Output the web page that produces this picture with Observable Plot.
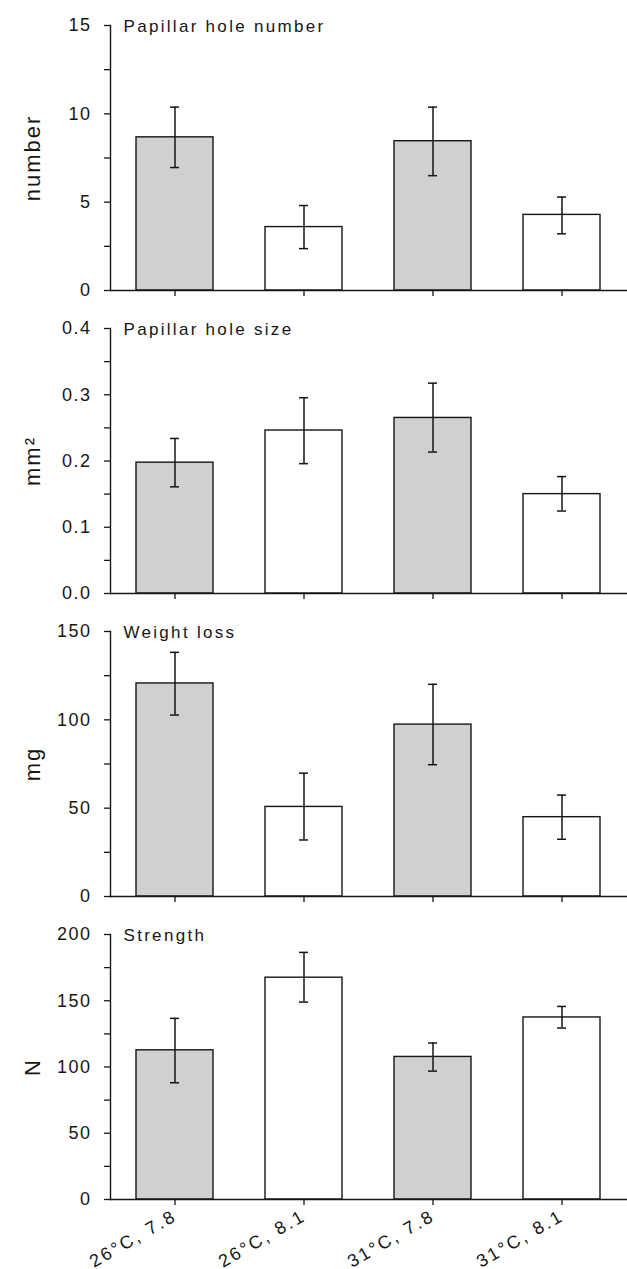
<!DOCTYPE html>
<html>
<head>
<meta charset="utf-8">
<script src="https://cdn.jsdelivr.net/npm/d3@7"></script>
<script src="https://cdn.jsdelivr.net/npm/@observablehq/plot@0.6"></script>
<style>
  html, body { margin: 0; padding: 0; background: white; }
  #chart svg { display: block; }
  #chart g[aria-label="y-axis tick label"] text { font-size: 18px; letter-spacing: 1.5px; }
  #chart g[aria-label="x-axis tick label"] text { font-size: 18px; letter-spacing: 2.4px; }
  #chart g.panel-title text { font-size: 17px; letter-spacing: 2.3px; }
  #chart g.panel-ylabel text { font-size: 22px; letter-spacing: 2px; }
</style>
</head>
<body>
<div id="chart"></div>
<script>
// ---- data ----
const categories = ["26°C, 7.8", "26°C, 8.1", "31°C, 7.8", "31°C, 8.1"];
const phLevel = ["7.8", "8.1", "7.8", "8.1"];

const holeNumberTitle = "Papillar hole number";
const holeNumberMean = [8.67, 3.59, 8.45, 4.28];
const holeNumberLow  = [6.96, 2.37, 6.50, 3.21];
const holeNumberHigh = [10.38, 4.81, 10.38, 5.29];
const holeNumberTicks = [0, 5, 10, 15];
const holeNumberMinor = [2.5, 7.5, 12.5];

const holeSizeTitle = "Papillar hole size";
const holeSizeMean = [0.1975, 0.246, 0.265, 0.150];
const holeSizeLow  = [0.161, 0.196, 0.2135, 0.1245];
const holeSizeHigh = [0.234, 0.2955, 0.3175, 0.1765];
const holeSizeTicks = [0, 0.1, 0.2, 0.3, 0.4];
const holeSizeMinor = [0.05, 0.15, 0.25, 0.35];

const weightTitle = "Weight loss";
const weightMean = [120.6, 50.7, 97.3, 44.9];
const weightLow  = [102.7, 32.0, 74.6, 32.4];
const weightHigh = [138.2, 69.8, 120.1, 57.4];
const weightTicks = [0, 50, 100, 150];
const weightMinor = [25, 75, 125];

const strengthTitle = "Strength";
const strengthMean = [112.6, 167.4, 107.6, 137.4];
const strengthLow  = [88.1, 149.0, 96.9, 129.4];
const strengthHigh = [136.7, 186.5, 118.1, 145.7];
const strengthTicks = [0, 50, 100, 150, 200];
const strengthMinor = [25, 75, 125, 175];

// ---- drawing ----
const FONT = "'Liberation Sans', Arial, Helvetica, sans-serif";
const INK = "#161616";

function panel({title, ylabel, mean, low, high, ticks, minor, fmt, height, marginBottom, showX}) {
  const data = categories.map((c, i) => ({cat: c, ph: phLevel[i], v: mean[i], lo: low[i], hi: high[i]}));
  const ymax = ticks[ticks.length - 1];
  const svg = Plot.plot({
    width: 627,
    height,
    marginLeft: 110,
    marginRight: 0,
    marginTop: 25,
    marginBottom,
    style: {fontFamily: FONT, fontSize: "18px", color: INK, background: "white", overflow: "visible"},
    x: {domain: categories, paddingInner: 0.4, paddingOuter: 0.2, align: 0.5},
    y: {domain: [0, ymax]},
    color: {domain: ["7.8", "8.1"], range: ["#d0d0d0", "#ffffff"]},
    marks: [
      Plot.barY(data, {x: "cat", y: "v", fill: "ph", stroke: INK, strokeWidth: 1.4}),
      Plot.ruleX(data, {x: "cat", y1: "lo", y2: "hi", stroke: INK, strokeWidth: 1.5}),
      Plot.tickY(data, {x: "cat", y: "lo", stroke: INK, strokeWidth: 1.5, insetLeft: 34, insetRight: 34}),
      Plot.tickY(data, {x: "cat", y: "hi", stroke: INK, strokeWidth: 1.5, insetLeft: 34, insetRight: 34}),
      Plot.frame({anchor: "left", stroke: INK, strokeWidth: 1.4}),
      Plot.ruleY([0], {stroke: INK, strokeWidth: 1.6}),
      Plot.axisY({ticks, tickSize: 6, tickPadding: 13, tickFormat: fmt, label: null,
                  stroke: INK, strokeWidth: 1.3, fill: INK, fontSize: 18}),
      Plot.axisY({ticks: minor, tickSize: 6, tickFormat: () => "", label: null, stroke: INK, strokeWidth: 1.3}),
      showX
        ? Plot.axisX({tickSize: 6, tickPadding: 9, tickRotate: -30, label: null, stroke: INK, strokeWidth: 1.3,
                      fill: INK, fontSize: 18})
        : Plot.axisX({tickSize: 6, tickFormat: () => "", label: null, stroke: INK, strokeWidth: 1.3}),
      Plot.text([title], {frameAnchor: "top-left", dx: 13, dy: 1, lineAnchor: "middle", textAnchor: "start",
                          fontSize: 17, fill: INK}),
      Plot.text([ylabel], {frameAnchor: "left", dx: -78, rotate: -90, textAnchor: "middle", lineAnchor: "middle",
                           fontSize: 22, fill: INK})
    ]
  });
  // tag the two free text marks so CSS can give them letter spacing
  const texts = svg.querySelectorAll('g[aria-label="text"]');
  if (texts[0]) texts[0].classList.add("panel-title");
  if (texts[1]) texts[1].classList.add("panel-ylabel");
  return svg;
}

const chart = document.getElementById("chart");
chart.append(panel({title: holeNumberTitle, ylabel: "number", mean: holeNumberMean, low: holeNumberLow, high: holeNumberHigh,
  ticks: holeNumberTicks, minor: holeNumberMinor, fmt: d3.format("d"), height: 303, marginBottom: 13, showX: false}));
chart.append(panel({title: holeSizeTitle, ylabel: "mm²", mean: holeSizeMean, low: holeSizeLow, high: holeSizeHigh,
  ticks: holeSizeTicks, minor: holeSizeMinor, fmt: d3.format(".1f"), height: 303, marginBottom: 13, showX: false}));
chart.append(panel({title: weightTitle, ylabel: "mg", mean: weightMean, low: weightLow, high: weightHigh,
  ticks: weightTicks, minor: weightMinor, fmt: d3.format("d"), height: 303, marginBottom: 13, showX: false}));
chart.append(panel({title: strengthTitle, ylabel: "N", mean: strengthMean, low: strengthLow, high: strengthHigh,
  ticks: strengthTicks, minor: strengthMinor, fmt: d3.format("d"), height: 360, marginBottom: 70, showX: true}));
</script>
</body>
</html>
